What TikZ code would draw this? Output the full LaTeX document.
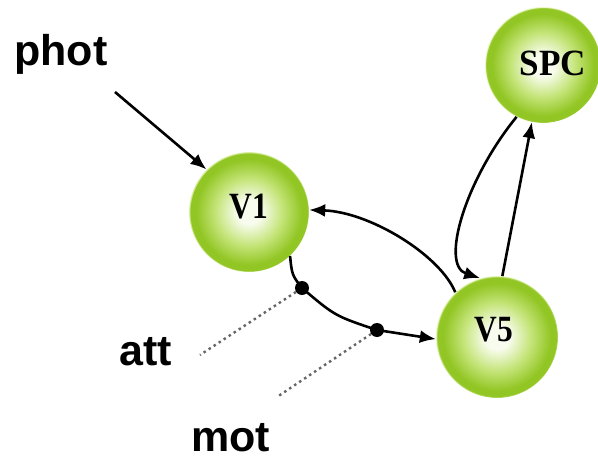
\documentclass[tikz,border=0pt]{standalone}
\usepackage{fontspec}
\setmainfont{Liberation Serif}
\setsansfont{Liberation Sans}
\usetikzlibrary{arrows.meta}
\definecolor{gedge}{RGB}{146,198,36}
\definecolor{gmid}{RGB}{196,228,120}
\definecolor{gcore}{RGB}{248,252,238}
\definecolor{glow}{RGB}{236,248,200}
\pgfdeclareradialshading{greenball}{\pgfpoint{0bp}{0bp}}{%
  color(0bp)=(gcore); color(5bp)=(gcore); color(14bp)=(gmid);
  color(22bp)=(gedge); color(24.5bp)=(gedge); color(25bp)=(glow); color(50bp)=(white)}
\tikzset{
  ball/.style={circle, shading=greenball, inner sep=0pt},
  balltext/.style={inner sep=0pt, text=black, font=\bfseries\fontsize{37}{37}\selectfont},
  lbl/.style={font=\sffamily\bfseries\fontsize{43}{45}\selectfont, anchor=base west, inner sep=0pt},
  conn/.style={line width=2.6pt, black},
  arr/.style={conn, -{Latex[length=16pt, width=13pt]}},
  dotline/.style={line width=2.4pt, black!60, dash pattern=on 2.5pt off 3.5pt},
  blob/.style={circle, fill=black, inner sep=0pt, minimum size=14pt}
}
\begin{document}
\begin{tikzpicture}[x=1pt, y=-1pt]
\useasboundingbox (0,0) rectangle (598,461);
% nodes
\node[ball, minimum size=120pt] (V1) at (249,212) {};
\node[ball, minimum size=116pt] (SPC) at (543,65) {};
\node[ball, minimum size=122pt] (V5) at (497,337) {};
\node[balltext] (V1t) at (249,207) {\scalebox{0.85}[1]{V1}};
\node[balltext] (SPCt) at (553,63) {\scalebox{0.95}[1]{SPC}};
\node[balltext] (V5t) at (494,330) {\scalebox{0.85}[1]{V5}};
% labels
\node[lbl] (phot) at (14,65) {phot};
\node[lbl] (att) at (119,365) {att};
\node[lbl] (mot) at (191,451) {mot};
% coordinates
\coordinate (ps) at (115,92);
\coordinate (ae) at (200,355);
\coordinate (me) at (277,397);
\node[blob] (d1) at (302,288) {};
\node[blob] (d2) at (377,330) {};
% connectors
\draw[arr] (ps) -- (V1.135);
\draw[arr] (V5.133) .. controls (440,255) and (370,212) .. (V1.2);
\draw[conn] (V1.-47) .. controls (292,275) .. (d1.center);
\draw[conn] (d1.center) .. controls (335,316) .. (d2.center);
\draw[arr] (d2.center) -- (V5.182);
\draw[arr] (SPC.-117) .. controls (465,180) and (440,265) .. (V5.106);
\draw[arr] (V5.85) -- (SPC.-101);
\draw[dotline] (d1) -- (ae);
\draw[dotline] (d2) -- (me);
\end{tikzpicture}
\end{document}
